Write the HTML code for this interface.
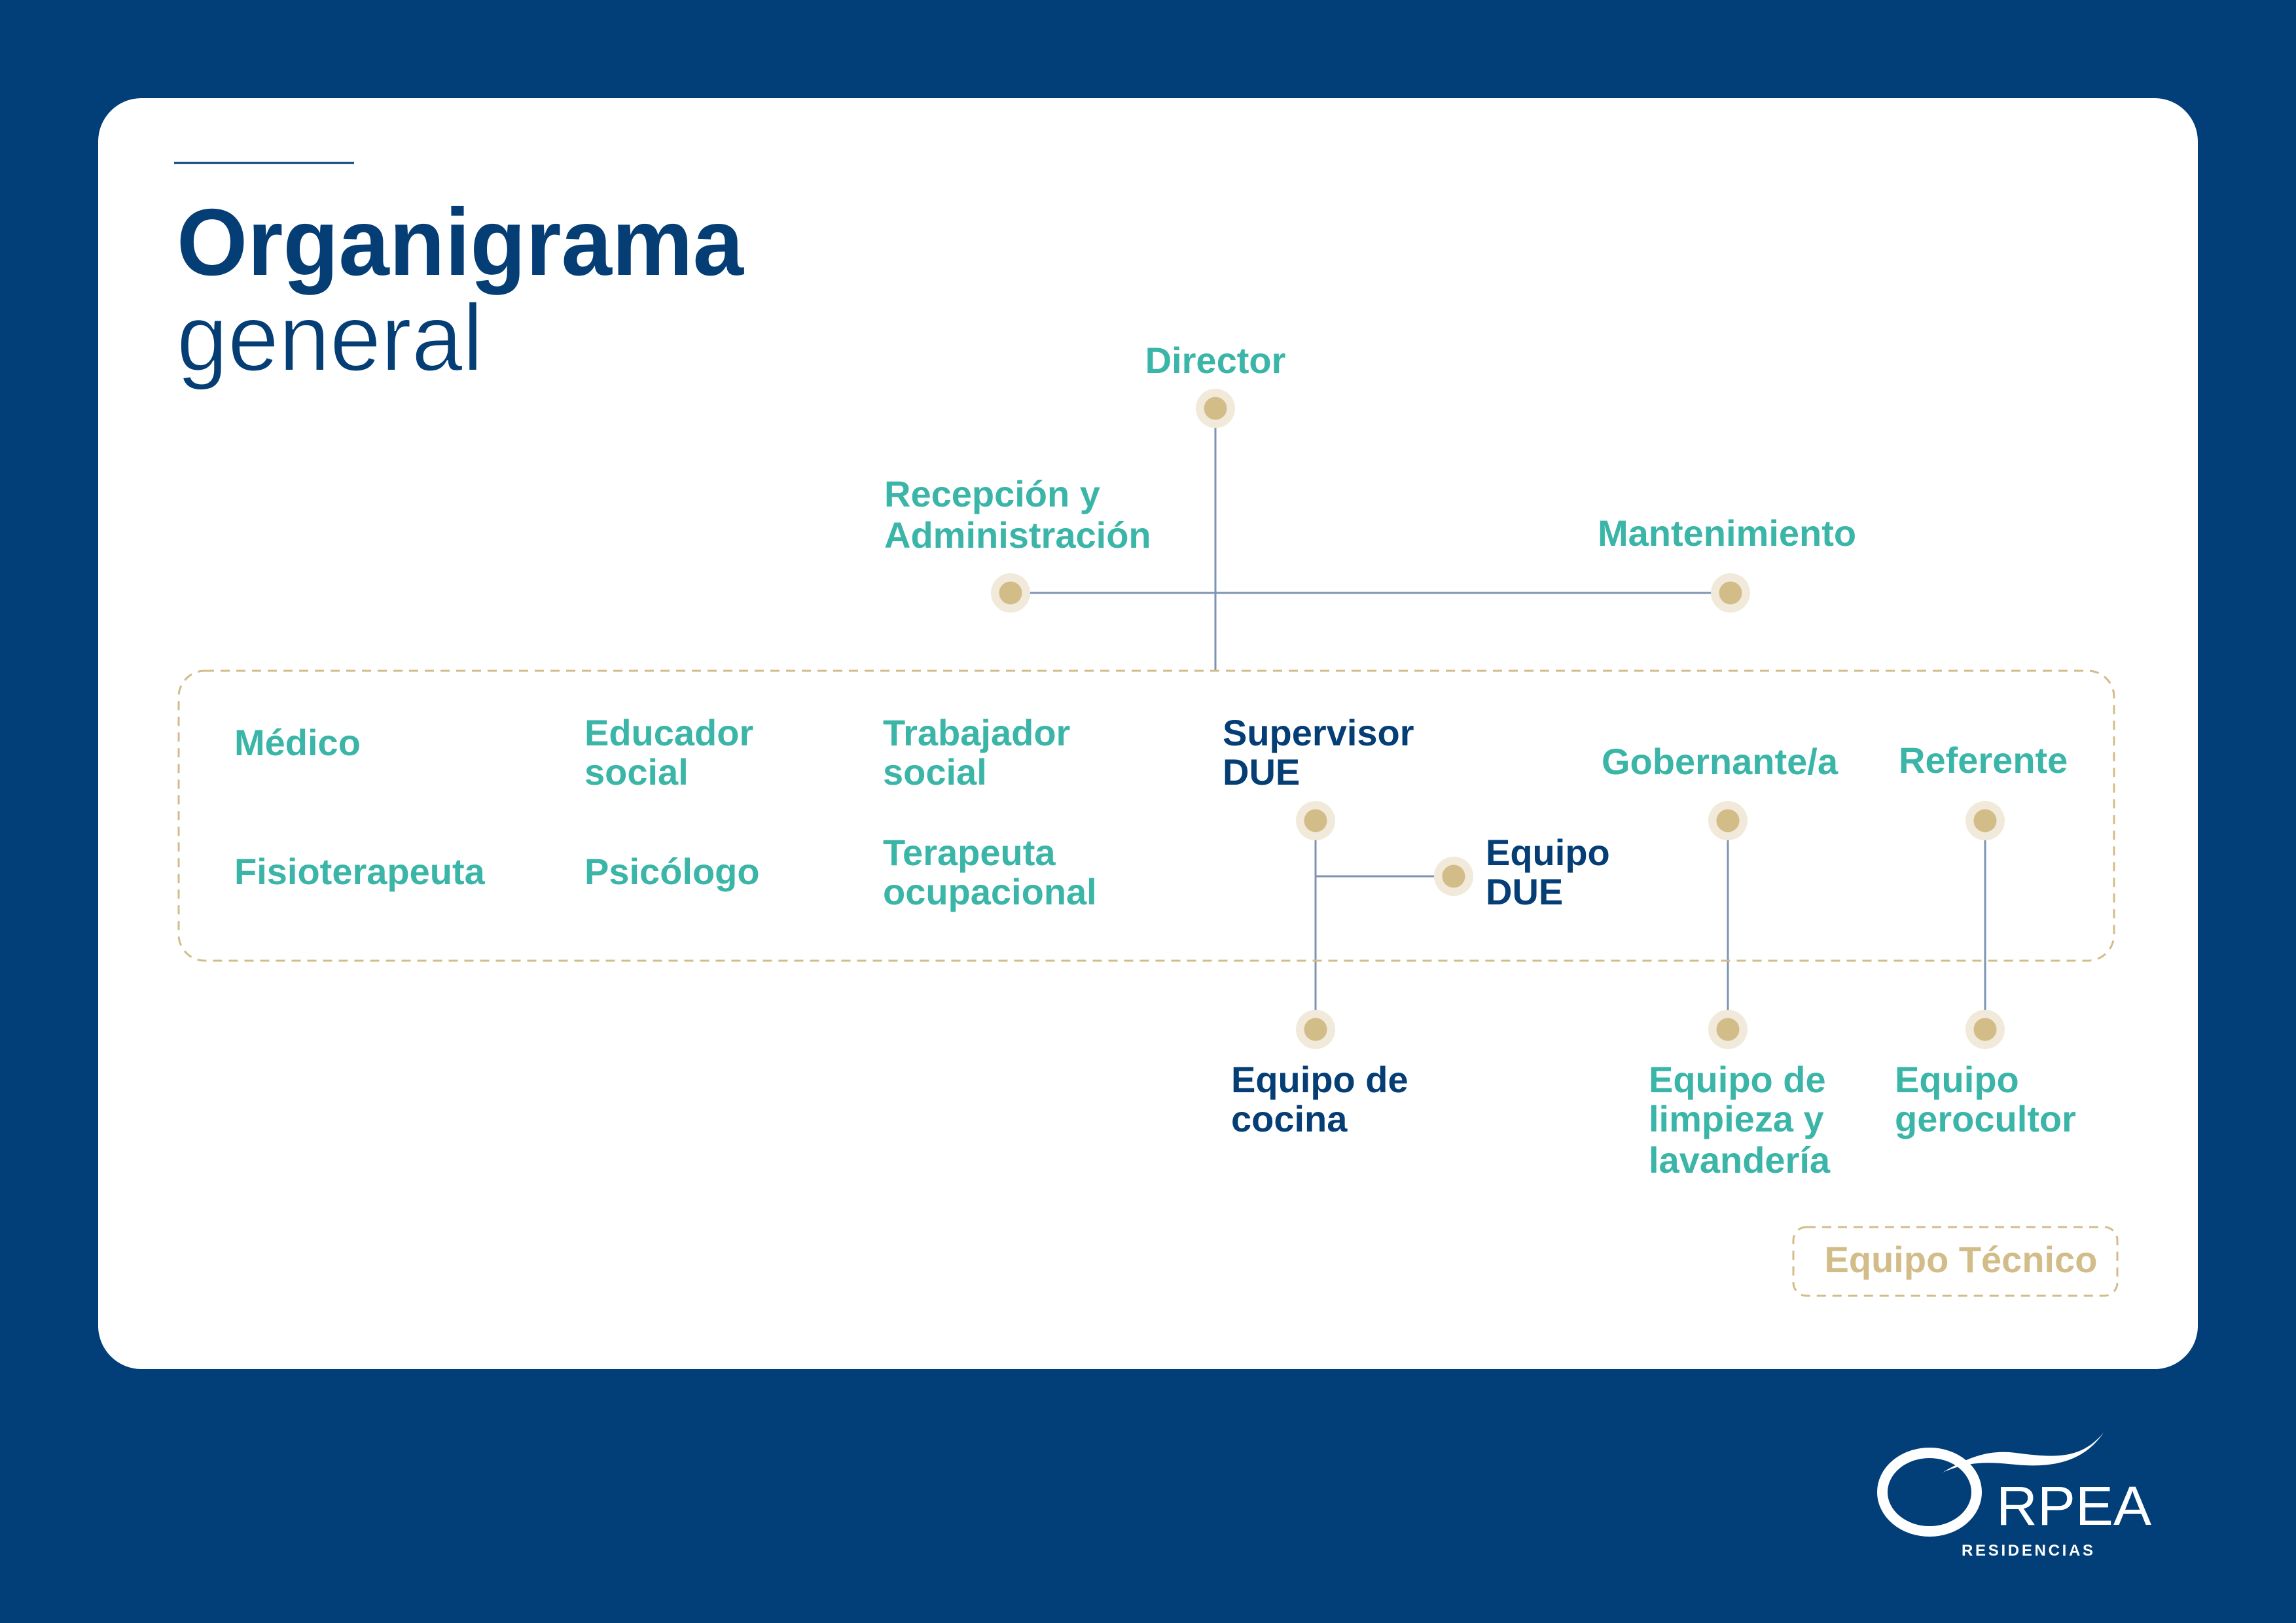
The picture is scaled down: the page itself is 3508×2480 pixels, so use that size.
<!DOCTYPE html>
<html><head><meta charset="utf-8"><style>
html,body{margin:0;padding:0;background:#023f78;}
svg{display:block}
text{font-family:"Liberation Sans",sans-serif;font-weight:bold;}
.t{fill:#3ab5a8;font-size:56px;}
.n{fill:#053d75;font-size:56px;}
</style></head><body>
<svg width="3508" height="2480" viewBox="0 0 3508 2480" xmlns="http://www.w3.org/2000/svg">
<rect width="3508" height="2480" fill="#023f78"/>
<rect x="150" y="150" width="3208" height="1942" rx="66" fill="#ffffff"/>
<line x1="266" y1="249" x2="541" y2="249" stroke="#053d75" stroke-width="3"/>
<text x="270" y="420" font-size="145" fill="#053d75" textLength="866" lengthAdjust="spacingAndGlyphs">Organigrama</text>
<text x="270" y="566" font-size="145" fill="#053d75" style="font-weight:normal" stroke="#ffffff" stroke-width="2" textLength="468" lengthAdjust="spacingAndGlyphs">general</text>

<g stroke="#7d93b3" stroke-width="3" fill="none">
<line x1="1857" y1="624" x2="1857" y2="1025"/>
<line x1="1544" y1="906" x2="2644" y2="906"/>
<line x1="2010" y1="1254" x2="2010" y2="1573"/>
<line x1="2010" y1="1339" x2="2221" y2="1339"/>
<line x1="2640" y1="1254" x2="2640" y2="1573"/>
<line x1="3033" y1="1254" x2="3033" y2="1573"/>
</g>
<g fill="none" stroke="#d2bc88" stroke-width="3" stroke-dasharray="14 10">
<rect x="273" y="1025" width="2957" height="443" rx="40"/>
<rect x="2740" y="1875" width="495" height="105" rx="20"/>
</g>
<g>
<circle cx="1857" cy="624" r="30" fill="#f1e9da"/><circle cx="1857" cy="624" r="17.5" fill="#d2bc88"/>
<circle cx="1544" cy="906" r="30" fill="#f1e9da"/><circle cx="1544" cy="906" r="17.5" fill="#d2bc88"/>
<circle cx="2644" cy="906" r="30" fill="#f1e9da"/><circle cx="2644" cy="906" r="17.5" fill="#d2bc88"/>
<circle cx="2010" cy="1254" r="30" fill="#f1e9da"/><circle cx="2010" cy="1254" r="17.5" fill="#d2bc88"/>
<circle cx="2221" cy="1339" r="30" fill="#f1e9da"/><circle cx="2221" cy="1339" r="17.5" fill="#d2bc88"/>
<circle cx="2010" cy="1573" r="30" fill="#f1e9da"/><circle cx="2010" cy="1573" r="17.5" fill="#d2bc88"/>
<circle cx="2640" cy="1254" r="30" fill="#f1e9da"/><circle cx="2640" cy="1254" r="17.5" fill="#d2bc88"/>
<circle cx="2640" cy="1573" r="30" fill="#f1e9da"/><circle cx="2640" cy="1573" r="17.5" fill="#d2bc88"/>
<circle cx="3033" cy="1254" r="30" fill="#f1e9da"/><circle cx="3033" cy="1254" r="17.5" fill="#d2bc88"/>
<circle cx="3033" cy="1573" r="30" fill="#f1e9da"/><circle cx="3033" cy="1573" r="17.5" fill="#d2bc88"/>
</g>

<text class="t" x="1857" y="570" text-anchor="middle">Director</text>
<text class="t" x="1351" y="774">Recepción y</text>
<text class="t" x="1351" y="837">Administración</text>
<text class="t" x="2441" y="834">Mantenimiento</text>

<text class="t" x="358" y="1154">Médico</text>
<text class="t" x="893" y="1139">Educador</text>
<text class="t" x="893" y="1199">social</text>
<text class="t" x="1349" y="1139">Trabajador</text>
<text class="t" x="1349" y="1199">social</text>
<text class="n" x="1868" y="1139">Supervisor</text>
<text class="n" x="1868" y="1199">DUE</text>
<text class="t" x="2447" y="1183">Gobernante/a</text>
<text class="t" x="2901" y="1181">Referente</text>

<text class="t" x="358" y="1351">Fisioterapeuta</text>
<text class="t" x="893" y="1351">Psicólogo</text>
<text class="t" x="1349" y="1322">Terapeuta</text>
<text class="t" x="1349" y="1382">ocupacional</text>
<text class="n" x="2270" y="1322">Equipo</text>
<text class="n" x="2270" y="1382">DUE</text>

<text class="n" x="1881" y="1669">Equipo de</text>
<text class="n" x="1881" y="1729">cocina</text>
<text class="t" x="2519" y="1669">Equipo de</text>
<text class="t" x="2519" y="1729">limpieza y</text>
<text class="t" x="2519" y="1792">lavandería</text>
<text class="t" x="2895" y="1669">Equipo</text>
<text class="t" x="2895" y="1729">gerocultor</text>

<text x="2996" y="1944" font-size="56" fill="#d2bc88" text-anchor="middle">Equipo Técnico</text>

<g fill="#ffffff">
<ellipse cx="2948" cy="2280" rx="72" ry="60" fill="none" stroke="#ffffff" stroke-width="16"/>
<path d="M2968 2250 C3010 2225 3040 2215 3080 2220 C3140 2228 3180 2230 3214 2189 C3190 2225 3150 2245 3080 2238 C3040 2234 3010 2232 2968 2250 Z"/>
<text x="3050" y="2330" font-size="84" style="font-weight:normal" textLength="237" lengthAdjust="spacingAndGlyphs">RPEA</text>
<text x="2997" y="2377" font-size="24" textLength="201" lengthAdjust="spacing">RESIDENCIAS</text>
</g>
</svg>
</body></html>
